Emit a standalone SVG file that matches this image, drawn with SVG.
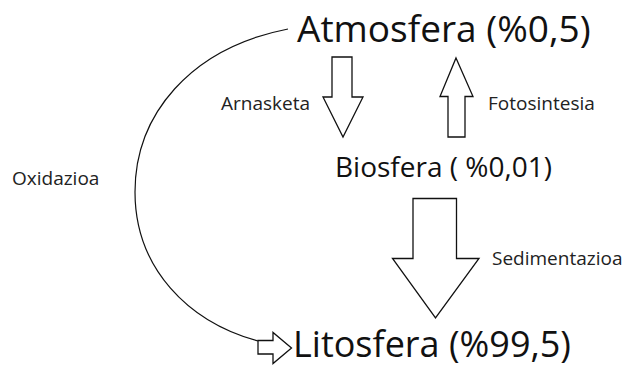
<svg xmlns="http://www.w3.org/2000/svg" width="628" height="367" viewBox="0 0 628 367">
<style>
.big{font-family:"Open Sans","DejaVu Sans",sans-serif;fill:#111}
.lbl{font-family:"Open Sans","DejaVu Sans",sans-serif;font-size:19px;fill:#222}
.ar{fill:#fff;stroke:#111;stroke-width:1.3;stroke-linejoin:miter}
.cv{fill:none;stroke:#111;stroke-width:1.2}
</style>
<rect width="628" height="367" fill="#fff"/>
<g id="connectors">
<path id="oxidazioa-curve" class="cv" d="M288,29 C190,48 135,115 135,192 C135,268 188,322 258,341"/>
<polygon id="arrow-oxidazioa" class="ar" points="258,340.5 273,340.5 273,332.5 291.5,348 273,363.5 273,354 258,354"/>
<polygon id="arrow-arnasketa" class="ar" points="332,57 352,57 352,97 363,97 343,137 323,97 332,97"/>
<polygon id="arrow-fotosintesia" class="ar" points="456,58 473,96.5 465,96.5 465,137 448,137 448,96.5 440,96.5"/>
<polygon id="arrow-sedimentazioa" class="ar" points="413,198.5 456.5,198.5 456.5,258.5 479,258.5 435.5,318 392.5,258.5 413,258.5"/>
<text class="lbl" x="12" y="185">Oxidazioa</text>
<text class="lbl" x="221" y="110">Arnasketa</text>
<text class="lbl" x="488" y="110">Fotosintesia</text>
<text class="lbl" x="492" y="265">Sedimentazioa</text>
</g>
<g id="atmosfera"><text class="big" x="297" y="42" font-size="37">Atmosfera (%0,5)</text></g>
<g id="biosfera"><text class="big" x="335" y="177" font-size="28">Biosfera ( %0,01)</text></g>
<g id="litosfera"><text class="big" x="293" y="357" font-size="36">Litosfera (%99,5)</text></g>
</svg>
